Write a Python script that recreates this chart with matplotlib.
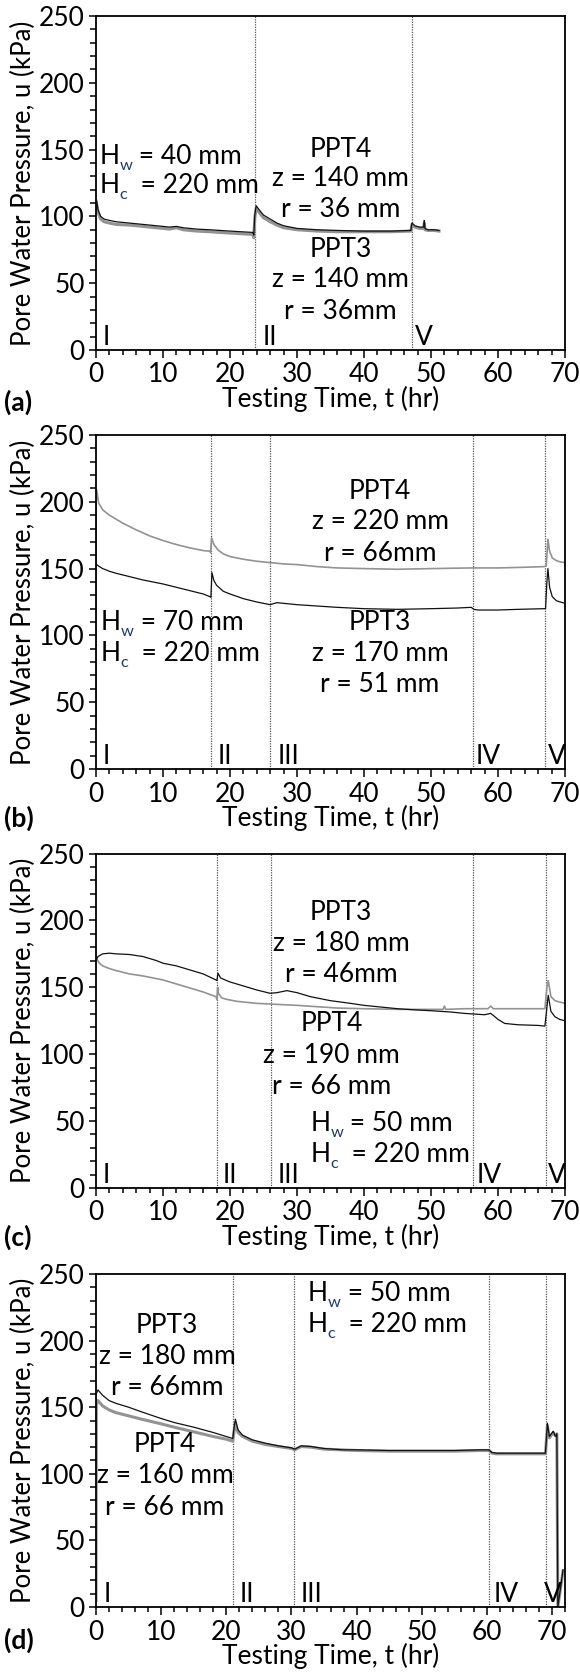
import matplotlib
matplotlib.use("Agg")
import matplotlib.pyplot as plt
from matplotlib.ticker import MultipleLocator

plt.rcParams['font.family'] = ['Lato', 'DejaVu Sans']

FS = 19
FSY = 18.5
BLACK = '#111111'
GRAY = '#939393'
BLUE = '#1f3a70'

# ---------------- data ----------------
# panel (a)
ta3 = [0, 0.05, 0.3, 0.7, 1.2, 2, 3, 5, 7, 9, 11, 12, 13, 15, 17, 20, 23.4, 23.55, 23.7, 23.9,
       24.5, 25, 26, 27, 28, 30, 33, 36, 40, 44, 47.0, 47.15, 47.6, 48.3, 48.9, 49.0, 49.1, 49.5, 50.5, 51.2]
ua3 = [110, 113, 105, 100, 98, 97, 96, 95, 94, 93, 92, 92.5, 91.5, 90.5, 90, 89, 88, 86, 101, 108,
       104, 101, 98, 95, 93, 91, 90, 89.5, 89, 89, 89.5, 95, 93, 92, 92, 97, 91, 90, 90, 89.5]
ta4 = ta3
ua4 = [108, 111, 103, 98, 96, 95, 94, 93.5, 92.5, 91.5, 90.5, 91.5, 90, 89, 88.5, 87.5, 86.5, 84, 99, 106,
       102, 99, 96, 93.5, 91.5, 90, 89, 88.5, 88.5, 88.5, 89, 94, 92, 91, 91, 95, 90, 89.5, 89.5, 89]
va_lines = [23.7, 47.1]
va_roman = ['I', 'II', 'V']
va_roman_x = [1.0, 24.8, 47.6]

# panel (b)
tb3 = [0, 0.02, 0.1, 0.5, 1, 2, 3, 5, 7, 10, 12, 14, 16, 17.0, 17.15, 17.3, 17.6, 18, 19, 20, 22, 24,
       26.0, 26.3, 27, 28, 30, 33, 36, 40, 45, 50, 54, 56.0, 56.4, 57, 60, 63, 66.9, 67.1, 67.3, 67.45,
       67.7, 68.1, 68.7, 69.3, 70]
ub3 = [35, 150, 153, 151.5, 150, 148, 146.5, 144, 141.5, 138.5, 136, 133.5, 131, 129, 128.5, 147, 141,
       137.5, 133, 131, 127.5, 125, 123, 123.5, 124.5, 124, 123, 122, 121, 120, 119.5, 120, 120.5, 121,
       119.5, 119, 119, 119.5, 120, 120, 140, 150, 136, 129, 126, 125, 124]
tb4 = [0, 0.02, 0.1, 0.4, 1, 2, 4, 6, 8, 10, 12, 14, 16, 17.0, 17.1, 17.25, 17.6, 18.2, 19, 20, 22, 24,
       26, 28, 30, 33, 36, 40, 45, 50, 56, 60, 64, 66.9, 67.2, 67.45, 67.7, 68.1, 68.7, 69.3, 70]
ub4 = [35, 200, 209, 199, 194, 190, 184, 179, 174.5, 171, 168, 165.5, 163.5, 163, 162, 173, 168, 164,
       161, 159, 157, 155.5, 154.5, 153.5, 153, 151.5, 150.5, 150, 149.5, 150, 150.5, 150.5, 151, 151.5,
       152, 172, 163, 158, 156, 155, 154.5]
vb_lines = [17.1, 26.0, 56.2, 67.0]
vb_roman = ['I', 'II', 'III', 'IV', 'V']
vb_roman_x = [1.0, 18.1, 27.1, 56.7, 67.4]

# panel (c)
tc3 = [0, 0.3, 1, 2, 3, 5, 7, 9, 10, 12, 14, 16, 17.9, 18.05, 18.2, 18.6, 19.5, 20, 22, 24, 26, 27,
       28.5, 30, 32, 35, 38, 40, 43, 45, 48, 50, 53, 55, 58, 58.9, 59.3, 60, 61, 63, 66, 67.0, 67.3,
       67.5, 67.9, 68.5, 69.2, 70]
uc3 = [170, 173, 175, 175.5, 175, 174.5, 173, 170, 168, 166, 163, 160, 155.5, 155, 160.5, 157, 155, 154,
       151, 148, 145.5, 146, 147.5, 146, 143, 140, 138, 136.5, 135, 134, 133, 132.5, 131.5, 130.5, 129.5,
       130.5, 129, 126, 123, 122, 121.5, 121, 135, 144, 132, 128, 126, 125]
tc4 = [0, 0.5, 1, 2, 3, 5, 7, 10, 12, 14, 16, 17.9, 18.05, 18.15, 18.3, 18.8, 19.5, 21, 24, 26, 28, 30,
       33, 36, 40, 45, 50, 51.8, 52.0, 52.2, 55, 58.5, 58.9, 59.3, 62, 67.0, 67.3, 67.5, 67.9, 68.5,
       69.2, 70]
uc4 = [172, 168, 166, 164, 162.5, 160, 158.5, 155.5, 152.5, 149.5, 146.5, 143, 141, 150, 145, 142, 141,
       139.5, 138, 137.5, 137, 136.5, 135.5, 134.5, 134, 133.5, 133.5, 133.5, 136, 133.5, 134, 134, 136,
       134, 134, 134, 150, 155, 143, 140, 139, 138]
vc_lines = [18.0, 26.1, 56.2, 67.1]
vc_roman = ['I', 'II', 'III', 'IV', 'V']
vc_roman_x = [1.0, 18.9, 27.1, 56.8, 67.4]

# panel (d)
td3 = [0, 0.05, 0.3, 1, 2, 3, 5, 7, 10, 12, 15, 18, 20, 21.0, 21.2, 21.4, 21.8, 22.5, 24, 26, 28, 30,
       30.5, 31.5, 33, 35, 38, 40, 45, 50, 55, 59, 60.3, 60.8, 61.5, 64, 67, 69.0, 69.3, 69.6, 70.2,
       70.5, 70.75, 70.9, 71.7]
ud3 = [10, 160, 163, 159, 155, 153, 150, 146.5, 141.5, 138.5, 135, 131, 128, 126.5, 135, 141, 133, 129,
       125.5, 123, 121, 119.5, 118.5, 121, 120.5, 119, 118, 118, 117.5, 117.5, 117.5, 118, 118, 116,
       115.5, 115.5, 115.5, 115.5, 138, 128, 132, 128, 130, 0, 28]
td4 = [0, 0.05, 0.3, 1, 2, 3, 5, 7, 10, 12, 15, 18, 20, 21.0, 21.2, 21.4, 21.8, 22.5, 24, 26, 28, 30,
       30.5, 31.5, 33, 35, 40, 45, 50, 55, 59, 60.3, 60.8, 61.5, 64, 67, 69.0, 69.3, 69.6, 70.2, 70.5,
       70.75, 70.9, 71.7]
ud4 = [5, 152, 155, 151, 148, 146, 143.5, 141, 137.5, 135, 131.5, 128, 126, 124.5, 132, 138, 131, 128,
       124.5, 122, 120.5, 119, 118, 120.5, 120, 118.5, 117.5, 117, 117, 117, 117.5, 117.5, 115.5, 115,
       115, 115, 115, 136, 127, 131, 129, 130, 0, 27]
vd_lines = [21.0, 30.4, 60.3, 69.05]
vd_roman = ['I', 'II', 'III', 'IV', 'V']
vd_roman_x = [1.15, 22.1, 31.4, 61.0, 68.7]

# ---------------- figure ----------------
fig = plt.figure(figsize=(5.8, 16.75), dpi=100)
W, H = 580.0, 1675.0
left, right = 96, 565
panels_px = [(16, 350), (435, 769), (853.5, 1188), (1274, 1607)]
axes = []
for top, bot in panels_px:
    ax = fig.add_axes([left / W, 1 - bot / H, (right - left) / W, (bot - top) / H])
    axes.append(ax)


def style(ax, xmax):
    ax.set_xlim(0, xmax)
    ax.set_ylim(0, 250)
    ax.xaxis.set_major_locator(MultipleLocator(10))
    ax.xaxis.set_minor_locator(MultipleLocator(2))
    ax.yaxis.set_major_locator(MultipleLocator(50))
    ax.yaxis.set_minor_locator(MultipleLocator(10))
    ax.tick_params(which='both', direction='out', top=False, right=False, width=1.1, colors='black')
    ax.tick_params(axis='x', which='major', length=5.5, pad=3.5, labelsize=FS)
    ax.tick_params(axis='x', which='minor', length=3.5)
    ax.tick_params(axis='y', which='major', length=5, pad=3, labelsize=FS)
    ax.tick_params(axis='y', which='minor', length=4.5)
    for s in ax.spines.values():
        s.set_linewidth(1.3)
        s.set_color('black')
    ax.set_xlabel('Testing Time, t (hr)', fontsize=FS, labelpad=-1)
    ax.set_ylabel('Pore Water Pressure, u (kPa)', fontsize=FSY, labelpad=2)
    xt = list(range(0, 71, 10))
    ax.set_xticks(xt)
    ax.set_xticklabels([str(v) for v in xt])


def vlines(ax, xs):
    for x in xs:
        ax.axvline(x, color='#555555', lw=0.9, ls=(0, (1.0, 1.0)), zorder=1)


def romans(ax, labels, xs):
    for lab, x in zip(labels, xs):
        ax.text(x, 9.5, lab, fontsize=FS, ha='left', va='center')


def block(ax, x, ys, lines):
    for y, s in zip(ys, lines):
        ax.text(x, y, s, fontsize=FS, ha='center', va='center')


def hblock(ax, x, y1, y2, hw, hc):
    for y, sub, rest in [(y1, 'w', hw), (y2, 'c', hc)]:
        t1 = ax.text(x, y, 'H', fontsize=FS, ha='left', va='center')
        t2 = ax.annotate(sub, xy=(1, 0.12), xycoords=t1, fontsize=FS * 0.62, color=BLUE,
                         ha='left', va='center')
        ax.annotate(rest, xy=(1, 0), xycoords=(t2, t1), fontsize=FS, ha='left', va='bottom')


def curves(ax, t3, u3, t4, u4, lw4=1.2):
    ax.plot(t4, u4, color=GRAY, lw=lw4, zorder=2)
    ax.plot(t3, u3, color=BLACK, lw=0.9, zorder=3)


# (a)
ax = axes[0]
style(ax, 70)
vlines(ax, va_lines)
curves(ax, ta3, ua3, ta4, ua4, lw4=2.2)
romans(ax, va_roman, va_roman_x)
hblock(ax, 0.5, 145, 123, ' = 40 mm', '  = 220 mm')
block(ax, 36.5, [150, 128, 105], ['PPT4', 'z = 140 mm', 'r = 36 mm'])
block(ax, 36.5, [75, 52.6, 29], ['PPT3', 'z = 140 mm', 'r = 36mm'])

# (b)
ax = axes[1]
style(ax, 70)
vlines(ax, vb_lines)
curves(ax, tb3, ub3, tb4, ub4)
romans(ax, vb_roman, vb_roman_x)
hblock(ax, 0.7, 109.8, 86.5, ' = 70 mm', '  = 220 mm')
block(ax, 42.4, [207.5, 185, 161.6], ['PPT4', 'z = 220 mm', 'r = 66mm'])
block(ax, 42.4, [109.8, 86.5, 62.9], ['PPT3', 'z = 170 mm', 'r = 51 mm'])

# (c)
ax = axes[2]
style(ax, 70)
vlines(ax, vc_lines)
curves(ax, tc3, uc3, tc4, uc4)
romans(ax, vc_roman, vc_roman_x)
hblock(ax, 32.0, 48.4, 25, ' = 50 mm', '  = 220 mm')
block(ax, 36.6, [206, 183, 159.7], ['PPT3', 'z = 180 mm', 'r = 46mm'])
block(ax, 35.2, [122.8, 99, 76], ['PPT4', 'z = 190 mm', 'r = 66 mm'])

# (d)
ax = axes[3]
style(ax, 72)
vlines(ax, vd_lines)
curves(ax, td3, ud3, td4, ud4, lw4=2.2)
romans(ax, vd_roman, vd_roman_x)
hblock(ax, 32.5, 235.4, 212, ' = 50 mm', '  = 220 mm')
block(ax, 10.9, [211.6, 187.7, 165], ['PPT3', 'z = 180 mm', 'r = 66mm'])
block(ax, 10.6, [122, 98.6, 75], ['PPT4', 'z = 160 mm', 'r = 66 mm'])

for lab, ypx in zip(['(a)', '(b)', '(c)', '(d)'], [402, 818, 1237, 1640]):
    fig.text(4 / W, 1 - ypx / H, lab, fontsize=FS, fontweight='bold', ha='left', va='center')

fig.savefig('out.png', dpi=100)
